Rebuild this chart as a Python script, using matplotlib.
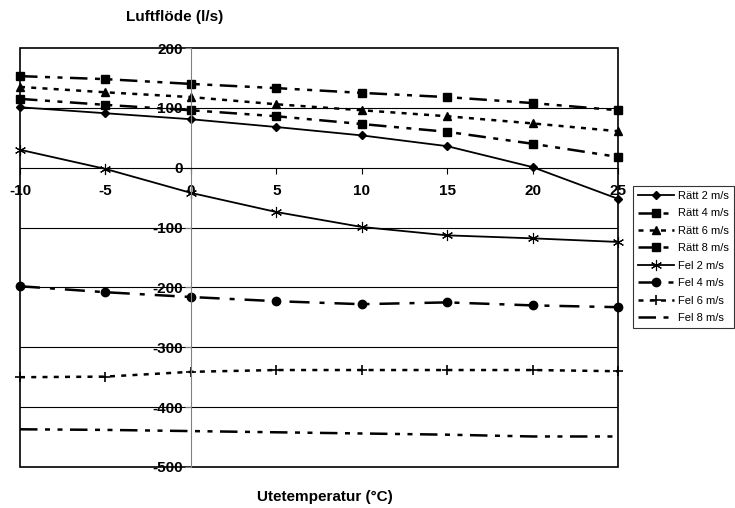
import numpy as np
import matplotlib.pyplot as plt
from matplotlib.patches import Rectangle

plt.rcParams['font.family'] = ['Liberation Sans', 'DejaVu Sans']
plt.rcParams['axes.unicode_minus'] = False

temp = [-10, -5, 0, 5, 10, 15, 20, 25]

ratt2 = [101, 91, 81, 68, 54, 36, 1, -52]
ratt4 = [115, 105, 96, 86, 73, 60, 40, 18]
ratt6 = [135, 126, 118, 106, 96, 86, 74, 61]
ratt8 = [153, 148, 140, 133, 125, 118, 108, 96]
fel2 = [30, -2, -42, -74, -99, -113, -118, -124]
fel4 = [-198, -208, -216, -223, -228, -225, -230, -233]
fel6 = [-350, -349, -341, -338, -338, -338, -338, -340]
fel8 = [-437, -438, -440, -442, -444, -446, -449, -449]

labels = ['Rätt 2 m/s', 'Rätt 4 m/s', 'Rätt 6 m/s', 'Rätt 8 m/s',
          'Fel 2 m/s', 'Fel 4 m/s', 'Fel 6 m/s', 'Fel 8 m/s']

fig = plt.figure(figsize=(7.35, 5.08), dpi=100)
ax = fig.add_axes([20/735, 1-467/508, 598/735, 419/508])

dashdotdot = (0, (7, 3, 2, 3, 2, 3))
dashdot = (0, (8, 4, 2, 4))
dotted = (0, (2, 2.5))

styles = [
    (ratt2, dict(ls='-', lw=1.3, marker='D', ms=4.5)),
    (ratt4, dict(ls=dashdotdot, lw=1.8, marker='s', ms=6)),
    (ratt6, dict(ls=dotted, lw=1.8, marker='^', ms=6)),
    (ratt8, dict(ls=dashdotdot, lw=1.8, marker='s', ms=6)),
    (fel2, dict(ls='-', lw=1.3, marker=(6, 2, 0), ms=8, mew=0.8)),
    (fel4, dict(ls=dashdot, lw=1.8, marker='o', ms=6)),
    (fel6, dict(ls=dotted, lw=1.8, marker='+', ms=7, mew=1.2)),
    (fel8, dict(ls=dashdotdot, lw=1.8, marker=None)),
]
for (vals, kw), lab in zip(styles, labels):
    ax.plot(temp, vals, color='black', label=lab, clip_on=False,
            dash_capstyle='butt', **kw)

ax.set_xlim(-10, 25)
ax.set_ylim(-500, 200)
ax.set_xticks(temp)
ax.set_yticks(np.arange(-500, 201, 100))

for yv in [100, -100, -200, -300, -400]:
    ax.axhline(yv, color='black', lw=0.8, zorder=0)

ax.spines['left'].set_position(('data', 0))
ax.spines['left'].set_color('#808080')
ax.spines['bottom'].set_position(('data', 0))
ax.spines['top'].set_visible(False)
ax.spines['right'].set_visible(False)
ax.add_patch(Rectangle((0, 0), 1, 1, transform=ax.transAxes, fill=False,
                       edgecolor='black', lw=1.2, clip_on=False, zorder=0))

ax.tick_params(axis='x', direction='out', length=4, width=0.8, pad=8,
               labelsize=11)
ax.tick_params(axis='y', direction='out', length=4, width=0.8, pad=2,
               labelsize=11, color='#808080')
for t in ax.get_xticklabels() + ax.get_yticklabels():
    t.set_fontweight('bold')

fig.text(175/735, 1-17/508, 'Luftflöde (l/s)', ha='center', va='center',
         fontsize=11, fontweight='bold')
fig.text(325/735, 1-497/508, 'Utetemperatur (°C)', ha='center', va='center',
         fontsize=11, fontweight='bold')

leg = fig.legend(loc='upper left', bbox_to_anchor=(633/735, 1-186/508),
                 fontsize=8, frameon=True, fancybox=False, edgecolor='black',
                 handlelength=3.2, handletextpad=0.4, borderpad=0.45,
                 labelspacing=0.67, borderaxespad=0)
leg.get_frame().set_linewidth(0.8)

fig.savefig('out.png', dpi=100)
